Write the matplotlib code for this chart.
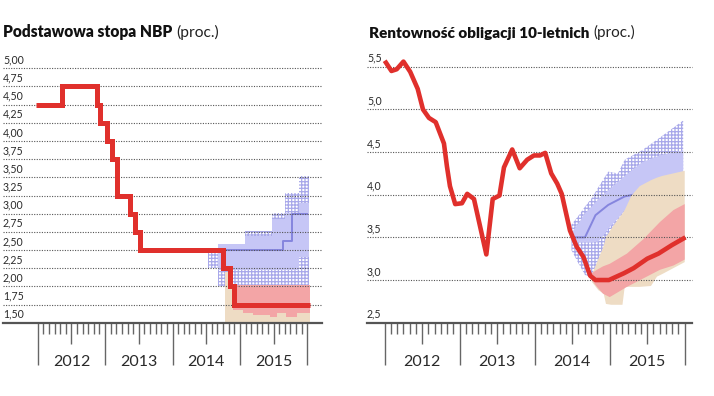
import matplotlib
matplotlib.use("Agg")
import matplotlib.pyplot as plt
from matplotlib import transforms

plt.rcParams["font.family"] = ["Lato", "DejaVu Sans"]
plt.rcParams["hatch.linewidth"] = 0.9

# ---------------- data: left chart (NBP reference rate) ----------------
nbp_t = [2011.98, 2012.36, 2012.875, 2012.924, 2013.033, 2013.107, 2013.181,
         2013.369, 2013.444, 2013.518, 2014.745, 2014.853, 2014.917, 2016.04]
nbp_v = [4.50, 4.75, 4.50, 4.25, 4.00, 3.75, 3.25,
         3.00, 2.75, 2.50, 2.25, 2.00, 1.75, 1.75]

nbp_blue_t = [2014.72, 2015.64, 2015.77, 2015.99]
nbp_blue_v = [2.50, 2.625, 3.00, 3.00]

nbp_solid_t = [2014.68, 2015.08, 2015.47, 2015.67, 2015.87, 2016.02]
nbp_solid_hi = [2.58, 2.69, 2.92, 3.01, 3.15, 3.15]
nbp_solid_lo = [2.22, 2.22, 2.22, 2.22, 2.40, 2.40]

nbp_hatch_t = [2014.52, 2014.68, 2015.08, 2015.47, 2015.67, 2015.87, 2016.02]
nbp_hatch_hi = [2.48, 2.58, 2.76, 3.01, 3.28, 3.52, 3.52]
nbp_hatch_lo = [2.25, 2.00, 2.00, 2.00, 2.00, 2.00, 2.00]

nbp_pink_t = [2014.90, 2015.05, 2015.20, 2015.45, 2015.55, 2015.69, 2015.84, 2016.04]
nbp_pink_hi = [2.02, 2.02, 2.02, 2.02, 2.02, 2.02, 2.02, 2.02]
nbp_pink_lo = [1.67, 1.64, 1.61, 1.58, 1.63, 1.58, 1.63, 1.64]

nbp_beige_t = [2014.78, 2014.90, 2016.04]
nbp_beige_hi = [2.20, 1.70, 1.70]

nbp_grid = [5.00, 4.75, 4.50, 4.25, 4.00, 3.75, 3.50, 3.25, 3.00, 2.75, 2.50, 2.25, 2.00, 1.75, 1.50]
nbp_labels = ["5,00", "4,75", "4,50", "4,25", "4,00", "3,75", "3,50", "3,25",
              "3,00", "2,75", "2,50", "2,25", "2,00", "1,75", "1,50"]

# ---------------- data: right chart (10Y bond yield) ----------------
bond_t = [2012.00, 2012.09, 2012.16, 2012.25, 2012.34, 2012.44, 2012.51, 2012.59,
          2012.68, 2012.79, 2012.83, 2012.87, 2012.94, 2013.03, 2013.10, 2013.19,
          2013.355, 2013.44, 2013.53, 2013.59, 2013.70, 2013.80, 2013.90, 2013.99,
          2014.07, 2014.14, 2014.22, 2014.30, 2014.36, 2014.47, 2014.56, 2014.65,
          2014.74, 2014.81, 2014.99, 2015.19, 2015.32, 2015.50, 2015.65, 2015.83, 2016.01]
bond_v = [5.57, 5.45, 5.47, 5.56, 5.44, 5.24, 5.00, 4.90,
          4.85, 4.60, 4.33, 4.10, 3.89, 3.90, 4.01, 3.95,
          3.30, 3.95, 3.99, 4.32, 4.53, 4.31, 4.41, 4.46,
          4.46, 4.49, 4.25, 4.13, 4.01, 3.58, 3.39, 3.27,
          3.05, 3.00, 3.00, 3.08, 3.14, 3.25, 3.31, 3.41, 3.50]

bond_blue_t = [2014.50, 2014.67, 2014.81, 2014.98, 2015.20, 2015.43]
bond_blue_v = [3.50, 3.50, 3.76, 3.88, 3.98, 4.02]

bond_fan_t = [2014.49, 2014.58, 2014.67, 2014.76, 2014.85, 2014.98,
              2015.11, 2015.20, 2015.43, 2015.67, 2015.98]
bond_hatch_hi = [3.65, 3.75, 3.86, 3.96, 4.09, 4.27, 4.25, 4.41, 4.52, 4.67, 4.87]
bond_hatch_lo = [3.35, 3.20, 3.06, 3.03, 3.10, 3.35, 3.55, 3.70, 3.90, 4.00, 4.10]
bond_solid_hi = [3.55, 3.66, 3.78, 3.86, 3.95, 4.05, 4.15, 4.22, 4.38, 4.46, 4.52]
bond_solid_lo = [3.44, 3.44, 3.44, 3.44, 3.45, 3.60, 3.72, 3.82, 3.95, 4.05, 4.15]

bond_beige_t = [2014.76, 2014.85, 2014.92, 2014.95, 2015.02, 2015.10, 2015.17, 2015.20,
                2015.29, 2015.40, 2015.55, 2015.63, 2015.70, 2015.85, 2016.00]
bond_beige_hi = [3.06, 3.25, 3.40, 3.50, 3.60, 3.70, 3.78, 3.82,
                 3.99, 4.10, 4.17, 4.20, 4.22, 4.25, 4.28]
bond_beige_lo = [2.98, 2.88, 2.84, 2.72, 2.71, 2.71, 2.71, 2.92,
                 2.92, 2.92, 2.93, 3.04, 3.07, 3.14, 3.21]

bond_pink_t = [2014.76, 2014.83, 2014.91, 2015.00, 2015.23, 2015.45, 2015.67, 2015.85, 2016.00]
bond_pink_hi = [3.08, 3.12, 3.16, 3.19, 3.31, 3.48, 3.68, 3.82, 3.89]
bond_pink_lo = [3.00, 2.92, 2.84, 2.80, 2.92, 3.02, 3.12, 3.17, 3.24]

bond_grid = [5.5, 5.0, 4.5, 4.0, 3.5, 3.0, 2.5]
bond_labels = ["5,5", "5,0", "4,5", "4,0", "3,5", "3,0", "2,5"]

years = [2012, 2013, 2014, 2015]

# ---------------- styling ----------------
RED = "#e0302c"
LAV = "#c6c6f6"
HATCH = "#a8a8ea"
BLUE_LINE = "#8585de"
PINK = "#f3a5a6"
BEIGE = "#eedcc4"
GRID = "#555555"
AXIS = "#555555"
TXT = "#2a2a2a"

W, H = 714, 396
fig = plt.figure(figsize=(W / 100, H / 100), dpi=100)
fig.patch.set_facecolor("white")


def px_axes(x0, x1, ytop, ybot):
    return fig.add_axes([x0 / W, (H - ybot) / H, (x1 - x0) / W, (ybot - ytop) / H])


def style(ax, xlim, ylim, grid, labels, h_px):
    ax.set_xlim(*xlim)
    ax.set_ylim(*ylim)
    for s in ["top", "right", "left"]:
        ax.spines[s].set_visible(False)
    ax.spines["bottom"].set_color(AXIS)
    ax.spines["bottom"].set_linewidth(1.6)
    ax.spines["bottom"].set_zorder(7)
    ax.set_xticks([])
    ax.set_yticks([])
    ax.patch.set_alpha(0)
    ytr = transforms.blended_transform_factory(ax.transAxes, ax.transData)
    for v, lab in zip(grid, labels):
        if v > ylim[0]:
            ax.axhline(v, color=GRID, lw=0.8, ls=(0, (1, 1.3)), zorder=5.5, clip_on=False)
        ax.annotate(lab, xy=(0, v), xycoords=ytr, xytext=(0, 2.2), textcoords="offset points",
                    ha="left", va="bottom", fontsize=7.6, color=TXT)
    xtr = ax.get_xaxis_transform()
    for m in range(0, 49):
        t = 2012 + m / 12
        if m % 12 == 0:
            L = 42
        elif m % 6 == 0:
            L = 21
        else:
            L = 11
        ax.plot([t, t], [0, -L / h_px], transform=xtr, clip_on=False,
                color="#666666", lw=1.0, solid_capstyle="butt", zorder=7)
    for y in years:
        ax.text(y + 0.5, -39 / h_px, str(y), transform=xtr, ha="center", va="center",
                fontsize=11.5, color=TXT)


# ---------------- left chart ----------------
hL = 322.7 - 68.3
axL = px_axes(3, 322, 68.3, 322.7)
style(axL, (2011.485, 2016.218), (1.5, 5.0), nbp_grid, nbp_labels, hL)

axL.fill_between(nbp_hatch_t, nbp_hatch_lo, nbp_hatch_hi, step="post", facecolor="none",
                 edgecolor=HATCH, hatch="+++++", linewidth=0, zorder=1)
axL.fill_between(nbp_solid_t, nbp_solid_lo, nbp_solid_hi, step="post", facecolor=LAV,
                 linewidth=0, zorder=2)
axL.plot(nbp_blue_t, nbp_blue_v, drawstyle="steps-post", color=BLUE_LINE, lw=1.4, zorder=3)
axL.fill_between(nbp_beige_t, [1.5] * len(nbp_beige_t), nbp_beige_hi, step="post",
                 facecolor=BEIGE, linewidth=0, zorder=4)
axL.fill_between(nbp_pink_t, [1.5] * len(nbp_pink_t), nbp_pink_lo, step="post",
                 facecolor=BEIGE, linewidth=0, zorder=4)
axL.fill_between(nbp_pink_t, nbp_pink_lo, nbp_pink_hi, step="post", facecolor=PINK,
                 linewidth=0, zorder=5)
axL.plot(nbp_t, nbp_v, drawstyle="steps-post", color=RED, lw=3.6, zorder=6,
         solid_joinstyle="miter", solid_capstyle="butt")

# ---------------- right chart ----------------
ppu = (322.7 - 66.7) / 3.0
top_px = 322.7 - (5.62 - 2.5) * ppu
hR = 322.7 - top_px
axR = px_axes(367, 692, top_px, 322.7)
style(axR, (2011.764, 2016.097), (2.5, 5.62), bond_grid, bond_labels, hR)

axR.fill_between(bond_fan_t, bond_hatch_lo, bond_hatch_hi, facecolor="none",
                 edgecolor=HATCH, hatch="+++++", linewidth=0, zorder=1)
axR.fill_between(bond_fan_t, bond_solid_lo, bond_solid_hi, facecolor=LAV,
                 linewidth=0, zorder=2)
axR.plot(bond_blue_t, bond_blue_v, color=BLUE_LINE, lw=1.4, zorder=3)
axR.fill_between(bond_beige_t, bond_beige_lo, bond_beige_hi, facecolor=BEIGE,
                 linewidth=0, zorder=4)
axR.fill_between(bond_pink_t, bond_pink_lo, bond_pink_hi, facecolor=PINK,
                 linewidth=0, zorder=5)
axR.plot(bond_t, bond_v, color=RED, lw=3.3, zorder=6, solid_joinstyle="round",
         solid_capstyle="butt")

# ---------------- titles ----------------
def title(x_px, bold, regular, size):
    t1 = fig.text(x_px / W, 1 - 37.5 / H, bold, fontsize=size, fontweight="heavy",
                  color="#111111", ha="left", va="baseline")
    fig.canvas.draw()
    bb = t1.get_window_extent()
    fig.text((bb.x1 + 4) / W, 1 - 37.5 / H, regular, fontsize=size, color="#222222",
             ha="left", va="baseline")


title(3, "Podstawowa stopa NBP", "(proc.)", 11.2)
title(369, "Rentowność obligacji 10-letnich", "(proc.)", 11.0)

fig.savefig("out.png", dpi=100, facecolor="white")
